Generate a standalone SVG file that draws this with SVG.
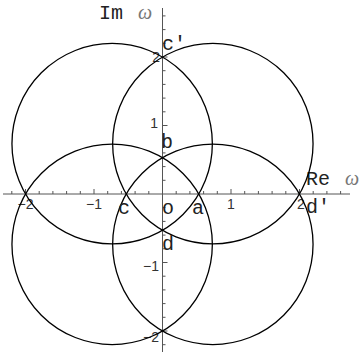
<svg xmlns="http://www.w3.org/2000/svg" width="362" height="356" viewBox="0 0 362 356">
<style>
.ax{stroke:#555;stroke-width:1;fill:none}
.tk{stroke:#555;stroke-width:1;fill:none}
.cir{stroke:#000;stroke-width:1.3;fill:none}
.num{font-family:"Liberation Sans",Arial,sans-serif;font-size:14px;fill:#333}
.lab{font-family:"Liberation Mono","Courier New",monospace;font-size:20px;fill:#222}
.om{font-family:"Liberation Serif","Times New Roman",serif;font-style:italic;font-size:20px;fill:#777}
</style>
<rect width="362" height="356" fill="#fff"/>
<g id="axes">
<path class="ax" d="M3 194H350M162.5 8V352"/>
<path class="tk" d="M11.8 194v-3M25.5 194v-5M39.2 194v-3M52.9 194v-3M66.6 194v-3M80.3 194v-3M94 194v-5M107.7 194v-3M121.4 194v-3M135.1 194v-3M148.8 194v-3M176.2 194v-3M189.9 194v-3M203.6 194v-3M217.3 194v-3M231 194v-5M244.7 194v-3M258.4 194v-3M272.1 194v-3M285.8 194v-3M299.5 194v-5M313.2 194v-3M326.9 194v-3M340.6 194v-3"/>
<path class="tk" d="M162.5 15.9h3M162.5 29.6h3M162.5 43.3h3M162.5 57h5M162.5 70.7h3M162.5 84.4h3M162.5 98.1h3M162.5 111.8h3M162.5 125.5h5M162.5 139.2h3M162.5 152.9h3M162.5 166.6h3M162.5 180.3h3M162.5 207.7h3M162.5 221.4h3M162.5 235.1h3M162.5 248.8h3M162.5 262.5h5M162.5 276.2h3M162.5 289.9h3M162.5 303.6h3M162.5 317.3h3M162.5 331h5M162.5 344.7h3"/>
<text class="num" x="25.5" y="209" text-anchor="middle">−2</text>
<text class="num" x="94" y="209" text-anchor="middle">−1</text>
<text class="num" x="231" y="209" text-anchor="middle">1</text>
<text class="num" x="301" y="209" text-anchor="middle">2</text>
<text class="num" x="160" y="62" text-anchor="end">2</text>
<text class="num" x="158" y="128" text-anchor="end">1</text>
<text class="num" x="159" y="271" text-anchor="end">−1</text>
<text class="num" x="159" y="342" text-anchor="end">−2</text>
<text class="lab" x="99" y="19">Im</text>
<text class="om" x="138" y="19">ω</text>
<text class="lab" x="306" y="185">Re</text>
<text class="om" x="345" y="185">ω</text>
</g>
<g id="circles">
<circle id="c-ul" class="cir" cx="112.15" cy="143.65" r="100.2"/>
<circle id="c-ur" class="cir" cx="212.85" cy="143.65" r="100.2"/>
<circle id="c-ll" class="cir" cx="112.15" cy="244.35" r="100.2"/>
<circle id="c-lr" class="cir" cx="212.85" cy="244.35" r="100.2"/>
</g>
<g id="labels">
<text class="lab" x="162" y="50">c′</text>
<text class="lab" x="161" y="148">b</text>
<text class="lab" x="118" y="214">c</text>
<text class="lab" x="162" y="214">o</text>
<text class="lab" x="192" y="214">a</text>
<text class="lab" x="162" y="250">d</text>
<text class="lab" x="306" y="213">d′</text>
</g>
</svg>
